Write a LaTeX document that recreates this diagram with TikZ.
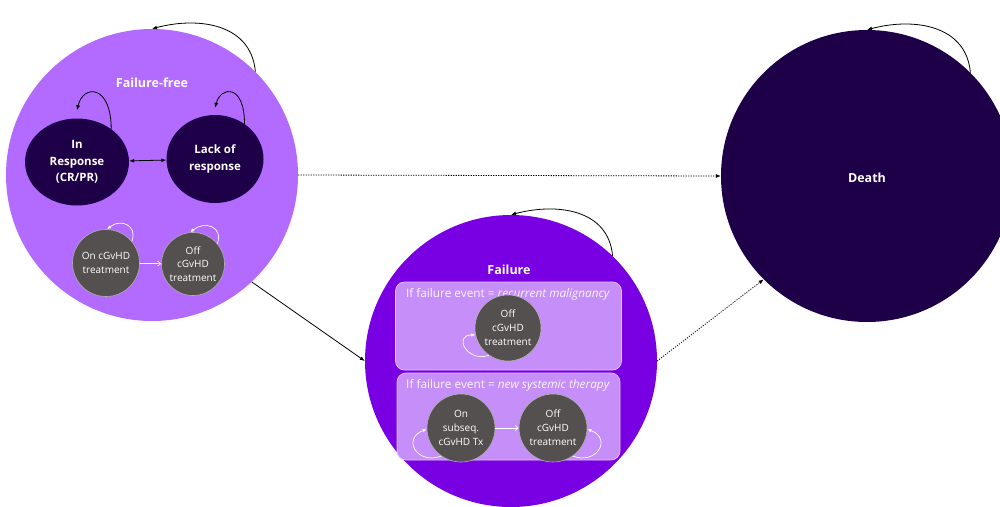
\documentclass[tikz,border=0pt]{standalone}
\usepackage{fontspec}
\setmainfont{Open Sans}
\usetikzlibrary{shapes.geometric,arrows.meta}
\definecolor{ffcol}{HTML}{B36AFE}
\definecolor{failcol}{HTML}{7800E3}
\definecolor{darkcol}{HTML}{1E0048}
\definecolor{graycol}{HTML}{54504F}
\definecolor{boxcol}{HTML}{C58EF9}
\definecolor{boxline}{HTML}{E2C4FF}
\begin{document}
\begin{tikzpicture}[x=1pt,y=-1pt,
  big/.style={circle,inner sep=0pt,minimum size=292pt},
  biglbl/.style={text=white,font=\bfseries\fontsize{12.5}{14}\selectfont},
  ell/.style={ellipse,fill=darkcol,inner sep=0pt,text=white,align=center,
    font=\bfseries\fontsize{11.5}{16.5}\selectfont},
  gcirc/.style={circle,fill=graycol,draw=white!55!graycol,line width=0.6pt,
    inner sep=0pt,text=white,align=center,font=\fontsize{10}{13.5}\selectfont},
  subbox/.style={rectangle,rounded corners=9pt,fill=boxcol,draw=boxline,
    line width=0.7pt,minimum width=226pt},
  boxtitle/.style={text=white!92!boxcol,font=\fontsize{11.8}{13}\selectfont},
  bloop/.style={-{Latex[length=5pt,width=4pt]},line width=0.8pt,black},
  wloop/.style={-{Latex[length=4pt,width=3.5pt]},line width=0.7pt,white},
  warrow/.style={-{Straight Barb[length=3pt,width=5pt]},line width=0.7pt,white},
  dotarrow/.style={-{Latex[length=5pt,width=4pt]},line width=0.8pt,
    dash pattern=on 1.1pt off 1.4pt}
]
\useasboundingbox (0,0) rectangle (1000,506);
\clip (0,0) rectangle (1000,506);
\fill[white] (0,0) rectangle (1000,506);

% big states
\node[big,fill=ffcol] (ff) at (152,175) {};
\node[big,fill=failcol] (fail) at (511,361) {};
\node[big,fill=darkcol] (death) at (867,176) {};

\node[biglbl] (fflbl) at (152,83) {Failure-free};
\node[biglbl] (faillbl) at (509,270) {Failure};
\node[biglbl] (deathlbl) at (867,178) {Death};

% failure-free inner states
\node[ell,minimum width=104pt,minimum height=87pt] (inr) at (77,162) {In\\Response\\(CR/PR)};
\node[ell,minimum width=97pt,minimum height=88pt] (lack) at (215,159) {Lack of\\response};
\draw[{Latex[length=5pt,width=4pt]}-{Latex[length=5pt,width=4pt]},line width=0.8pt] (inr) -- (lack);

\node[gcirc,minimum size=67pt] (on1) at (106,263) {On cGvHD\\treatment};
\node[gcirc,minimum size=63pt] (off1) at (193,264) {Off\\cGvHD\\treatment};
\draw[warrow] (on1) -- (off1);

% failure sub-boxes
\node[subbox,minimum height=88pt] (box1) at (508.5,326) {};
\node[subbox,minimum height=87pt,minimum width=223pt] (box2) at (508.5,416.5) {};
\node[boxtitle] (t1) at (508,294) {If failure event = \textit{recurrent malignancy}};
\node[boxtitle] (t2) at (508,385) {If failure event = \textit{new systemic therapy}};

\node[gcirc,minimum size=66pt,font=\fontsize{10}{14}\selectfont] (off2) at (508,328) {Off\\cGvHD\\treatment};
\node[gcirc,minimum size=68pt,font=\fontsize{10}{14}\selectfont] (on3) at (461,428) {On\\subseq.\\cGvHD Tx};
\node[gcirc,minimum size=68pt,font=\fontsize{10}{14}\selectfont] (off3) at (553,428) {Off\\cGvHD\\treatment};
\draw[warrow] (on3) -- (off3);

% self loops (black)
\draw[bloop] (ff.45) to[out=95,in=15,looseness=1.1] (ff.90);
\draw[bloop] (fail.46) to[out=95,in=15,looseness=1.1] (fail.90);
\draw[bloop] (death.45) to[out=95,in=15,looseness=1.1] (death.90);
\draw[bloop] (inr.44) .. controls +(0,-45) and +(6,-26) .. ([yshift=8pt]inr.north);
\draw[bloop] (lack.50) .. controls +(0,-40) and +(6,-22) .. ([yshift=7pt]lack.north);

% self loops (white)
\draw[wloop] (on1.40) to[out=70,in=40,looseness=1.6] (on1.88);
\draw[wloop] (off1.40) to[out=70,in=40,looseness=1.6] (off1.95);
\draw[wloop] (off2.235) to[out=200,in=180,looseness=2.4] (off2.192);
\draw[wloop] (on3.235) to[out=200,in=200,looseness=2.2] (on3.182);
\draw[wloop] (off3.-55) to[out=-20,in=-20,looseness=2.2] (off3.-2);

% transitions
\draw[dotarrow] (ff.east) -- (death.west);
\draw[bloop] (ff.-47) -- (fail.180);
\draw[dotarrow] (fail.0) -- (death.225);
\end{tikzpicture}
\end{document}
